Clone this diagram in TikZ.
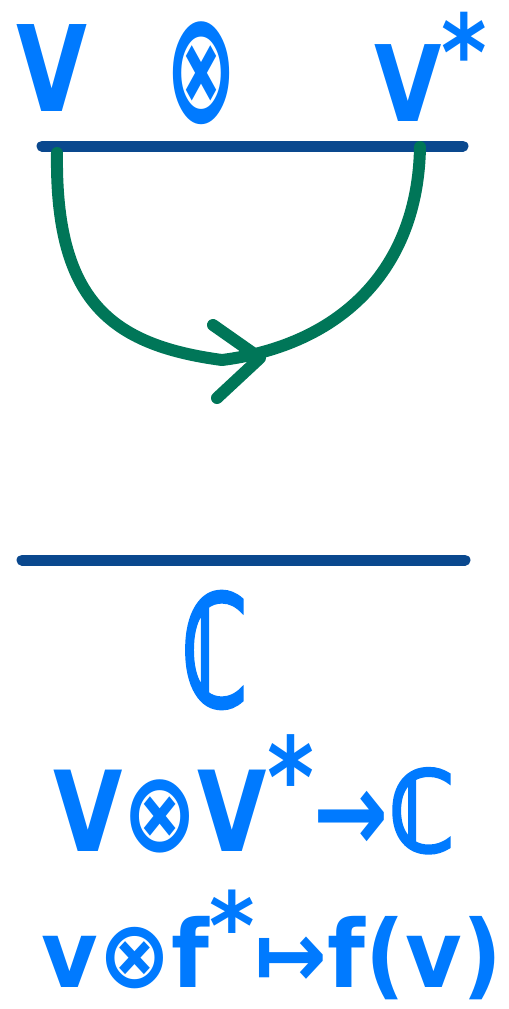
\documentclass[tikz,border=0pt]{standalone}
\usepackage{fontspec}
\setmainfont{DejaVu Sans}
\newfontfamily\bbfont[FakeBold=3]{DejaVu Sans}
\usepackage{graphicx}
\definecolor{ink}{RGB}{0,122,255}
\definecolor{barblue}{RGB}{10,72,142}
\definecolor{loopgreen}{RGB}{0,118,88}
\begin{document}
\begin{tikzpicture}[x=0.02cm,y=-0.02cm,
  txt/.style={inner sep=0pt, text=ink, font=\bfseries},
  bar/.style={draw=barblue, line width=0.22cm, line cap=round},
  loopline/.style={draw=loopgreen, line width=0.24cm, line cap=round, line join=round}]
\useasboundingbox (0,0) rectangle (508,1009);
% top labels
\node[txt] (V) at (52,68) {\resizebox{1.42cm}{1.74cm}{V}};
\node[txt] (ot) at (201,73) {\resizebox*{1.44cm}{2.06cm}{⊗}};
\node[txt] (Vs) at (431,67) {\resizebox*{2.26cm}{2.2cm}{V\raisebox{.3em}{*}}};
% top bar
\coordinate (t1) at (42,146);
\coordinate (t2) at (463,146);
\draw[bar] (t1) -- (t2);
% loop
\coordinate (l1) at (57,153);
\coordinate (lm) at (222,360);
\coordinate (l2) at (420,147);
\draw[loopline] (l1) .. controls (55,300) and (110,345) .. (lm)
  .. controls (340,345) and (418,270) .. (l2);
\coordinate (a1) at (213,325);
\coordinate (a2) at (260,358);
\coordinate (a3) at (217,398);
\draw[loopline] (a1) -- (a2) -- (a3);
% bottom bar
\coordinate (b1) at (22,560);
\coordinate (b2) at (465,560);
\draw[bar] (b1) -- (b2);
% bottom texts
\node[txt] (C) at (215,650) {\resizebox{1.32cm}{2.28cm}{\bbfont ℂ}};
\node[txt] (map) at (254,794) {\resizebox*{8.04cm}{2.36cm}{V⊗V\raisebox{.3em}{*}→{\bbfont ℂ}}};
\node[txt] (ev) at (272,945) {\resizebox*{9.2cm}{2.2cm}{v⊗f\raisebox{.3em}{*}↦f(v)}};
\end{tikzpicture}
\end{document}
